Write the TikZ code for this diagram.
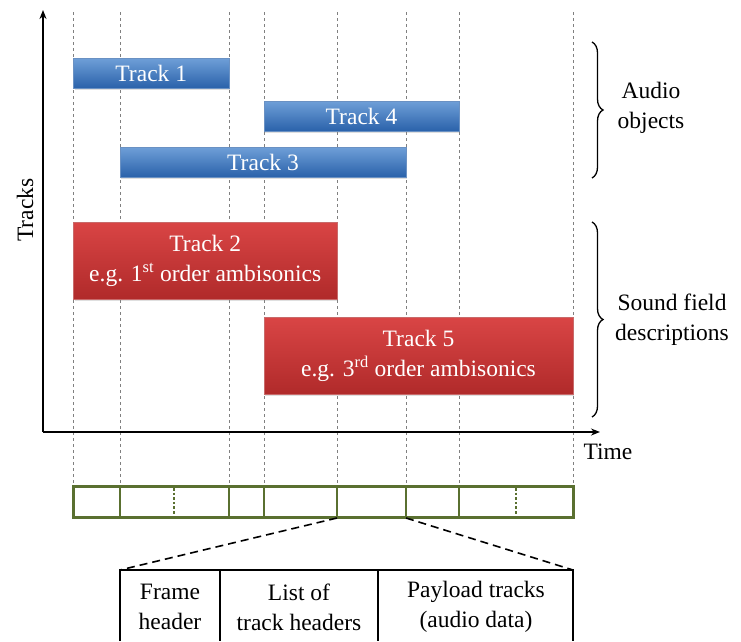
\documentclass[tikz,border=0pt]{standalone}
\usepackage{fontspec}
\setmainfont{Liberation Serif}
\usetikzlibrary{positioning, decorations.pathreplacing, shadows, arrows.meta}

\definecolor{barblue}{HTML}{3F7FCB}
\definecolor{barbluedark}{HTML}{2A62AA}
\definecolor{barred}{HTML}{D94545}
\definecolor{barreddark}{HTML}{B02A2A}
\definecolor{frameolive}{HTML}{5A7030}

\begin{document}
\begin{tikzpicture}[x=1pt, y=-1pt, >={Stealth[length=9pt, width=7pt]}, font=\fontsize{23.5}{30}\selectfont]
        % styles
        \tikzstyle{grid} = [gray, dashed, line width=0.8pt]
        \tikzstyle{bluebar} = [draw=barbluedark!70, top color=barblue!75, bottom color=barbluedark, text=white, minimum height=30pt, inner sep=0pt, drop shadow={opacity=0.25, shadow xshift=1pt, shadow yshift=-1.5pt}]
        \tikzstyle{redbar} = [draw=barreddark!70, top color=barred, bottom color=barreddark, text=white, minimum height=77pt, inner sep=0pt, align=center, drop shadow={opacity=0.25, shadow xshift=1pt, shadow yshift=-1.5pt}]
        \tikzstyle{cell} = [align=center, inner sep=0pt]

        \useasboundingbox (0,0) rectangle (741,641);

        % time grid
        \foreach \gx in {73.5,120,229,264,337,406,459,573}
            \draw[grid] (\gx,12) -- (\gx,486);

        % axes
        \coordinate (origin) at (43,432);
        \coordinate (ytop) at (43,10);
        \coordinate (xend) at (600,432);
        \draw[->, line width=1.4pt] (origin) -- (ytop);
        \draw[->, line width=1.4pt] (origin) -- (xend);
        \node[rotate=90] (tracks) at (25,210) {Tracks};
        \node (time) at (608,452) {Time};

        % audio objects
        \node[bluebar, minimum width=155.5pt] (track1) at (151.25,73) {Track 1};
        \node[bluebar, minimum width=195pt] (track4) at (361.5,116) {Track 4};
        \node[bluebar, minimum width=286pt] (track3) at (263,162) {Track 3};

        % sound field descriptions
        \node[redbar, minimum width=263.5pt] (track2) at (205.25,260.5) {Track 2\\ e.g. 1\textsuperscript{st} order ambisonics};
        \node[redbar, minimum width=309pt] (track5) at (418.5,356) {Track 5\\ e.g. 3\textsuperscript{rd} order ambisonics};

        % braces
        \coordinate (ao1) at (592,42);
        \coordinate (ao2) at (592,178);
        \coordinate (sf1) at (592,222);
        \coordinate (sf2) at (592,417);
        \draw[decorate, decoration={brace, amplitude=11pt}, line width=1.3pt] (ao1) -- (ao2);
        \draw[decorate, decoration={brace, amplitude=11pt}, line width=1.3pt] (sf1) -- (sf2);
        \node[align=center] (audioobj) at (651,108) {Audio\\objects};
        \node[align=center] (soundfield) at (672,320) {Sound field\\descriptions};

        % frame
        \draw[frameolive, line width=3pt] (73.5,486) rectangle (573,517);
        \foreach \fx in {120,229,264,337,406,459}
            \draw[frameolive, line width=2.6pt] (\fx,486) -- (\fx,517);
        \foreach \fx in {174,516}
            \draw[frameolive, line width=2.6pt, dotted] (\fx,488) -- (\fx,515);
        \coordinate (fa) at (337,518);
        \coordinate (fb) at (406,518);

        % frame structure
        \coordinate (ta) at (120,570);
        \coordinate (tb) at (573,570);
        \draw[line width=1.4pt] (120,641) -- (ta) -- (tb) -- (573,641);
        \draw[line width=1.4pt] (220,570) -- (220,641);
        \draw[line width=1.4pt] (378,570) -- (378,641);
        \node[cell] (hdr) at (170,607) {Frame\\header};
        \node[cell] (list) at (299,607) {List of\\track headers};
        \node[cell] (payload) at (476,607) {Payload tracks\\(audio data)};
        \draw[line width=1.6pt, dash pattern=on 8pt off 5pt] (fa) -- (ta);
        \draw[line width=1.6pt, dash pattern=on 8pt off 5pt] (fb) -- (tb);
    \end{tikzpicture}
\end{document}
